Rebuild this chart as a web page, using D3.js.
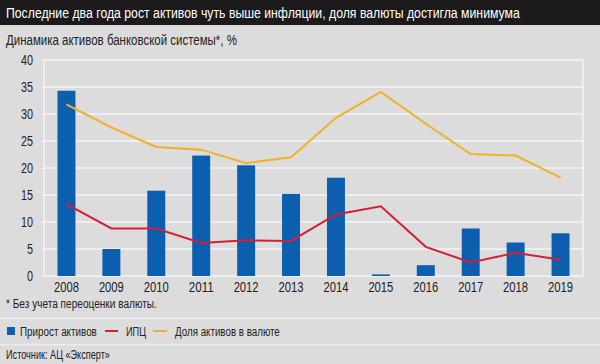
<!DOCTYPE html>
<html><head><meta charset="utf-8">
<script src="https://cdn.jsdelivr.net/npm/d3@7"></script>
<style>html,body{margin:0;padding:0;background:#dcdcdc;}svg{display:block;}</style>
</head><body>
<script>
const years = ["2008","2009","2010","2011","2012","2013","2014","2015","2016","2017","2018","2019"];
const assetGrowth = [34.3, 5.0, 15.8, 22.3, 20.5, 15.2, 18.2, 0.3, 2.0, 8.8, 6.2, 7.9];
const cpi = [13.3, 8.8, 8.8, 6.1, 6.6, 6.5, 11.4, 12.9, 5.4, 2.5, 4.3, 3.0];
const fxShare = [31.8, 27.5, 23.9, 23.4, 20.9, 22.0, 29.3, 34.1, 28.2, 22.6, 22.3, 18.2];
const yTicks = [0, 5, 10, 15, 20, 25, 30, 35, 40];

const W = 600, H = 364;
const font = "'Liberation Sans',Arial,sans-serif";
const svg = d3.select("body").append("svg").attr("width", W).attr("height", H);
svg.append("rect").attr("width", W).attr("height", H).attr("fill", "#dcdcdc");
svg.append("rect").attr("width", W).attr("height", 25).attr("fill", "#1c1a1a");

// condensed text: natural width measured, then squeezed horizontally to the target width
function txt(xp, yp, s, size, len, fill) {
  const t = svg.append("text").attr("x", 0).attr("y", 0).attr("fill", fill || "#222")
    .attr("font-family", font).attr("font-size", size).text(s);
  const nat = t.node().getComputedTextLength();
  t.attr("transform", `translate(${xp},${yp}) scale(${len / nat},1)`);
  return t;
}
txt(6, 18, "Последние два года рост активов чуть выше инфляции, доля валюты достигла минимума", 15.5, 514, "#fff");
txt(6, 45, "Динамика активов банковской системы*, %", 14, 231);

const x = d3.scaleBand().domain(years).range([44, 583]).paddingInner(0.6).paddingOuter(0.3);
const y = d3.scaleLinear().domain([0, 40]).range([276, 60]);

// grid
svg.append("g").selectAll("line").data(yTicks).join("line")
  .attr("x1", 44).attr("x2", 583).attr("y1", d => y(d)).attr("y2", d => y(d))
  .attr("stroke", "#f4f4f4").attr("stroke-width", 1.5);
svg.append("line").attr("x1", 583).attr("x2", 583).attr("y1", 60).attr("y2", 276).attr("stroke", "#f4f4f4").attr("stroke-width", 1.5);
svg.append("line").attr("x1", 44).attr("x2", 44).attr("y1", 60).attr("y2", 276).attr("stroke", "#f4f4f4").attr("stroke-width", 1.5);

// y axis
const ya = svg.append("g").attr("transform", "translate(44,0)")
  .call(d3.axisLeft(y).tickValues(yTicks).tickSize(3).tickPadding(8));
ya.select(".domain").remove();
ya.selectAll("line").attr("stroke", "#f4f4f4");
ya.selectAll("text").attr("font-family", font).attr("font-size", 15).attr("fill", "#222")
  .attr("textLength", d => String(d).length * 6).attr("lengthAdjust", "spacingAndGlyphs");

// x axis
const xa = svg.append("g").attr("transform", "translate(0,276)")
  .call(d3.axisBottom(x).tickSize(0).tickPadding(5));
xa.select(".domain").remove();
xa.selectAll("text").attr("font-family", font).attr("font-size", 15).attr("fill", "#222")
  .attr("textLength", 25).attr("lengthAdjust", "spacingAndGlyphs");

// bars
svg.append("g").selectAll("rect").data(years).join("rect")
  .attr("x", d => x(d)).attr("width", x.bandwidth())
  .attr("y", (d, i) => y(assetGrowth[i])).attr("height", (d, i) => y(0) - y(assetGrowth[i]))
  .attr("fill", "#0b5fae");

const line = d3.line().x((d, i) => x(years[i]) + x.bandwidth() / 2).y(d => y(d));
svg.append("path").datum(fxShare).attr("d", line).attr("fill", "none").attr("stroke", "#f0b02a").attr("stroke-width", 2);
svg.append("path").datum(cpi).attr("d", line).attr("fill", "none").attr("stroke", "#d41f35").attr("stroke-width", 2);

// footnote
txt(6, 308, "* Без учета переоценки валюты.", 13.5, 151);
svg.append("line").attr("x1", 0).attr("x2", W).attr("y1", 318.5).attr("y2", 318.5).attr("stroke", "#eeeeee").attr("stroke-width", 1.5);
svg.append("line").attr("x1", 0).attr("x2", W).attr("y1", 344.5).attr("y2", 344.5).attr("stroke", "#eeeeee").attr("stroke-width", 1.5);

// legend
svg.append("rect").attr("x", 7).attr("y", 327).attr("width", 8).attr("height", 8).attr("fill", "#0b5fae");
txt(20, 336, "Прирост активов", 13.5, 77);
svg.append("line").attr("x1", 105).attr("x2", 118).attr("y1", 331).attr("y2", 331).attr("stroke", "#d41f35").attr("stroke-width", 2);
txt(126, 336, "ИПЦ", 13.5, 20);
svg.append("line").attr("x1", 153).attr("x2", 167).attr("y1", 331).attr("y2", 331).attr("stroke", "#f0b02a").attr("stroke-width", 2);
txt(175, 336, "Доля активов в валюте", 13.5, 105);

txt(6, 359, "Источник: АЦ «Эксперт»", 13.5, 104);
</script>
</body></html>
